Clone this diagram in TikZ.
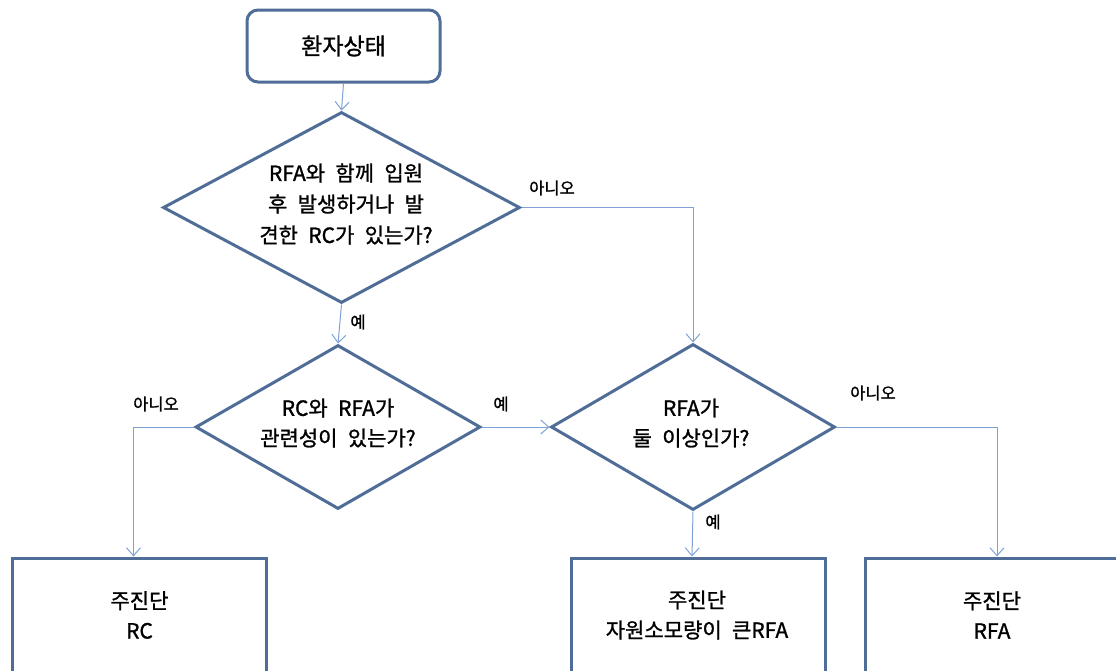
\documentclass[tikz,border=0pt]{standalone}
\usepackage{fontspec}
\newfontfamily\kr[WordSpace=2.2,FakeBold=1.2]{Noto Sans CJK KR}
\usetikzlibrary{shapes.geometric,arrows.meta,calc}
\definecolor{shapeblue}{HTML}{4F6D97}
\definecolor{linkblue}{HTML}{7FA2D6}
\tikzset{
  shp/.style={draw=shapeblue, line width=3pt, fill=white},
  startbox/.style={shp, rounded corners=11pt, minimum width=193pt, minimum height=72pt, inner sep=0pt},
  dia/.style={shp, diamond, inner sep=0pt},
  endbox/.style={shp, minimum width=254pt, minimum height=114pt, inner sep=0pt},
  txt/.style={font=\kr\fontsize{21}{31}\selectfont, align=center, inner sep=0pt},
  lbl/.style={font=\kr\fontsize{16.5}{18}\selectfont, inner sep=0pt},
  link/.style={draw=linkblue, line width=1pt, -{Straight Barb[length=8pt,width=14pt,line width=1pt]}},
}
\begin{document}
\begin{tikzpicture}[x=1pt,y=-1pt]
\useasboundingbox (0,0) rectangle (1116,670);

\node[startbox] (top) at (343.5,46) {};
\node[txt, font=\kr\fontsize{23}{28}\selectfont] (toptxt) at (top) {환자상태};

\node[dia, minimum width=357pt, minimum height=191pt] (d1) at (341.5,207.5) {};
\node[txt] (d1txt) at (346,204) {RFA와 함께 입원\\후 발생하거나 발\\견한 RC가 있는가?};

\node[dia, minimum width=285pt, minimum height=164pt] (d2) at (338,427) {};
\node[txt, font=\kr\fontsize{21}{30}\selectfont] (d2txt) at (338,423) {RC와 RFA가\\관련성이 있는가?};

\node[dia, minimum width=284pt, minimum height=166pt] (d3) at (693,427) {};
\node[txt, font=\kr\fontsize{21}{30}\selectfont] (d3txt) at (691,423) {RFA가\\둘 이상인가?};

\node[endbox] (b1) at (139.5,615) {};
\node[txt, font=\kr\fontsize{21}{30}\selectfont] (b1txt) at (139.5,615) {주진단\\RC};

\node[endbox] (b2) at (698,615) {};
\node[txt, font=\kr\fontsize{21}{30}\selectfont] (b2txt) at (697,615) {주진단\\자원소모량이 큰RFA};

\node[endbox] (b3) at (992,615) {};
\node[txt, font=\kr\fontsize{21}{30}\selectfont] (b3txt) at (992,615) {주진단\\RFA};

\draw[link] (top.south) -- (d1.north);
\draw[link] (d1.south) -- (d2.north);
\draw[link] (d1.east) -| (d3.north);
\draw[link] (d2.east) -- (d3.west);
\draw[link] (d2.west) -| ([xshift=-6pt]b1.north);
\draw[link] (d3.south) -- ([xshift=-6pt]b2.north);
\draw[link] (d3.east) -| ([xshift=5pt]b3.north);

\node[lbl] (l1) at (358,322) {예};
\node[lbl] (l2) at (552,188) {아니오};
\node[lbl] (l3) at (156,404) {아니오};
\node[lbl] (l4) at (501,404) {예};
\node[lbl] (l5) at (713,522) {예};
\node[lbl] (l6) at (873,393) {아니오};
\end{tikzpicture}
\end{document}
